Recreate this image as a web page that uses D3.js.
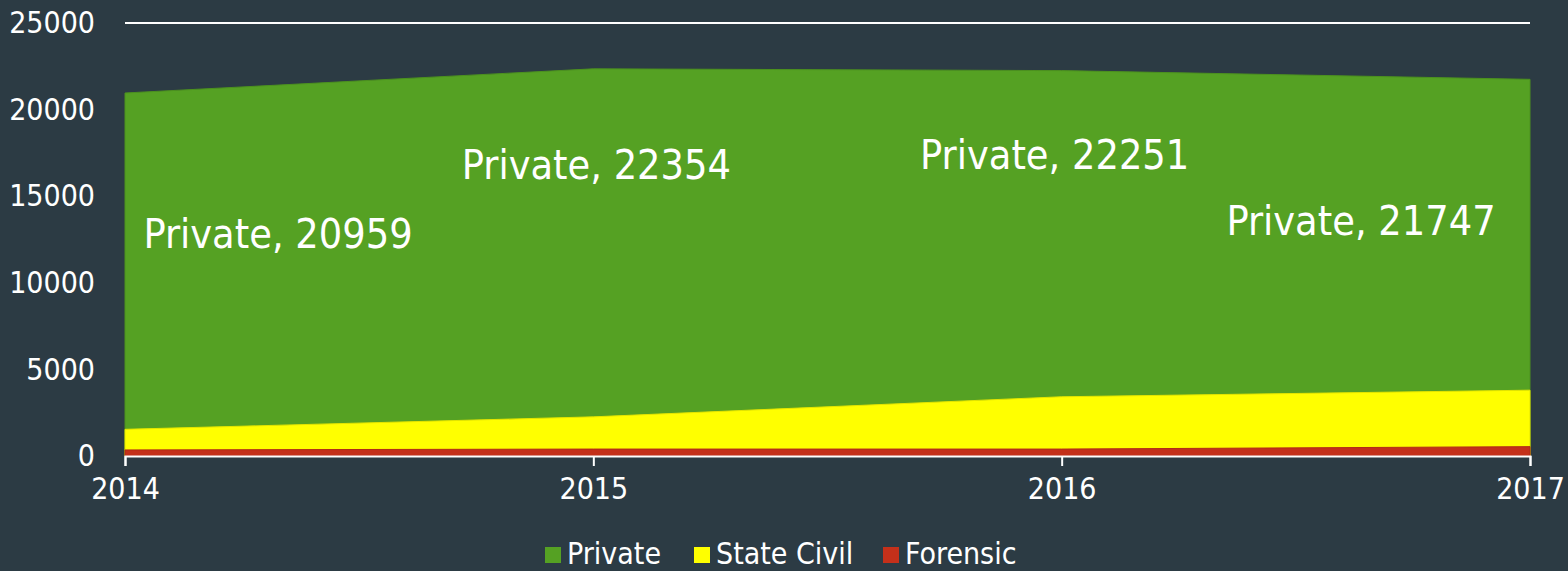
<!DOCTYPE html>
<html>
<head>
<meta charset="utf-8">
<script src="https://cdn.jsdelivr.net/npm/d3@7"></script>
<style>
	html, body { margin: 0; padding: 0; background: #2c3b44; }
	svg { display: block; font-family: "DejaVu Sans Condensed", "DejaVu Sans", sans-serif; }
</style>
</head>
<body>
<script>
const years = [2014, 2015, 2016, 2017];
const privateValues = [20959, 22354, 22251, 21747];
const stateCivilValues = [1540, 2260, 3420, 3800];
const forensicValues = [350, 400, 400, 540];
const yTicks = [0, 5000, 10000, 15000, 20000, 25000];
const seriesNames = ["Private", "State Civil", "Forensic"];

const colors = { "Private": "#55a123", "State Civil": "#ffff00", "Forensic": "#c4301a" };
// where each data label sits, relative to its point
const labelOffsets = [[153, 155], [3, 110], [-7, 98], [-169, 156]];

const width = 1568, height = 571;
const margin = { top: 23, right: 38, bottom: 115, left: 125 };

const x = d3.scaleLinear()
	.domain(d3.extent(years))
	.range([margin.left, width - margin.right]);

const y = d3.scaleLinear()
	.domain([0, 25000])
	.range([height - margin.bottom, margin.top]);

const svg = d3.select("body").append("svg")
	.attr("width", width)
	.attr("height", height);

// gridlines sit behind the areas
svg.append("g")
	.attr("class", "grid")
	.selectAll("line")
	.data(yTicks.slice(1))
	.join("line")
		.attr("x1", x.range()[0])
		.attr("x2", x.range()[1])
		.attr("y1", d => y(d))
		.attr("y2", d => y(d))
		.attr("stroke", "#ffffff")
		.attr("stroke-width", 2);

const series = [
	{ name: "Private", values: privateValues },
	{ name: "State Civil", values: stateCivilValues },
	{ name: "Forensic", values: forensicValues },
];

const area = d3.area()
	.x((d, i) => x(years[i]))
	.y0(y(0))
	.y1(d => y(d));

svg.append("g")
	.attr("class", "areas")
	.selectAll("path")
	.data(series)
	.join("path")
		.attr("d", d => area(d.values))
		.attr("fill", d => colors[d.name])
		.attr("stroke", d => d3.color(colors[d.name]).darker(0.3))
		.attr("stroke-width", 1);

// x axis
const xAxis = svg.append("g")
	.attr("transform", `translate(0, ${y(0)})`)
	.call(d3.axisBottom(x).tickValues(years).tickFormat(d3.format("d")).tickSize(10).tickPadding(12));
xAxis.select(".domain").attr("stroke", "#ffffff").attr("stroke-width", 2);
xAxis.selectAll(".tick line").attr("stroke", "#ffffff").attr("stroke-width", 2);
xAxis.selectAll(".tick text")
	.attr("fill", "#ffffff")
	.attr("font-size", 30)
	.attr("font-family", "DejaVu Sans Condensed");

// y axis labels only
const yAxis = svg.append("g")
	.attr("transform", `translate(${margin.left}, 0)`)
	.call(d3.axisLeft(y).tickValues(yTicks).tickFormat(d3.format("d")).tickSize(0).tickPadding(30));
yAxis.select(".domain").remove();
yAxis.selectAll(".tick text")
	.attr("fill", "#ffffff")
	.attr("font-size", 30)
	.attr("font-family", "DejaVu Sans Condensed");

// data labels
svg.append("g")
	.attr("class", "labels")
	.selectAll("text")
	.data(privateValues)
	.join("text")
		.attr("x", (d, i) => x(years[i]) + labelOffsets[i][0])
		.attr("y", (d, i) => y(d) + labelOffsets[i][1])
		.attr("text-anchor", "middle")
		.attr("fill", "#ffffff")
		.attr("font-size", 41)
		.text(d => `Private, ${d}`);

// legend
const legend = svg.append("g")
	.attr("class", "legend")
	.attr("transform", `translate(545, 564)`);

let offset = 0;
const gaps = [0, 149, 189];
seriesNames.forEach((name, i) => {
	offset += gaps[i];
	const item = legend.append("g").attr("transform", `translate(${offset}, 0)`);
	item.append("rect")
		.attr("x", 0)
		.attr("y", -17)
		.attr("width", 16)
		.attr("height", 16)
		.attr("fill", colors[name]);
	item.append("text")
		.attr("x", 22)
		.attr("y", 0)
		.attr("fill", "#ffffff")
		.attr("font-size", 30)
		.text(name);
});
</script>
</body>
</html>
